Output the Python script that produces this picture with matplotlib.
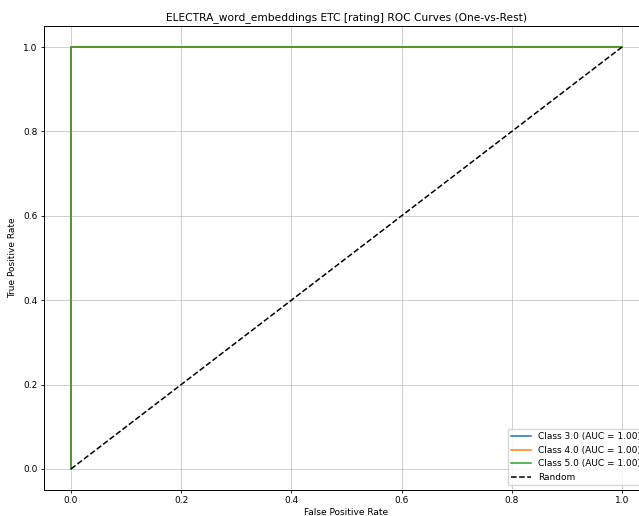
import numpy as np
import matplotlib.pyplot as plt

classes = ['3.0', '4.0', '5.0']
aucs = [1.00, 1.00, 1.00]
fpr = [[0.0, 0.0, 1.0], [0.0, 0.0, 1.0], [0.0, 0.0, 1.0]]
tpr = [[0.0, 1.0, 1.0], [0.0, 1.0, 1.0], [0.0, 1.0, 1.0]]
colors = ['#1f77b4', '#ff7f0e', '#2ca02c']

W, H = 639, 516
fig = plt.figure(figsize=(W / 100, H / 100), dpi=100)
# axes runs past the right edge, like the cropped original
ax = fig.add_axes([43.5 / W, 1 - 490 / H, (649.5 - 43.5) / W, (490 - 26) / H])

for c, auc, f, t, col in zip(classes, aucs, fpr, tpr, colors):
    ax.plot(f, t, color=col, lw=1.1, label=f'Class {c} (AUC = {auc:.2f})')
ax.plot([0, 1], [0, 1], 'k--', lw=1.1, label='Random')

ax.set_xlabel('False Positive Rate', fontsize=6.5, labelpad=2)
ax.set_ylabel('True Positive Rate', fontsize=6.5, labelpad=4)
ax.set_title('ELECTRA_word_embeddings ETC [rating] ROC Curves (One-vs-Rest)', fontsize=7.7, pad=4)
ax.tick_params(labelsize=6.5, length=2.5, width=0.6, pad=2)
for s in ax.spines.values():
    s.set_linewidth(0.7)
ax.grid(True, linewidth=0.6, alpha=0.7)
ax.legend(loc='lower right', fontsize=6.5, borderpad=0.4, handlelength=2.2)

fig.savefig('out.png', dpi=100)
